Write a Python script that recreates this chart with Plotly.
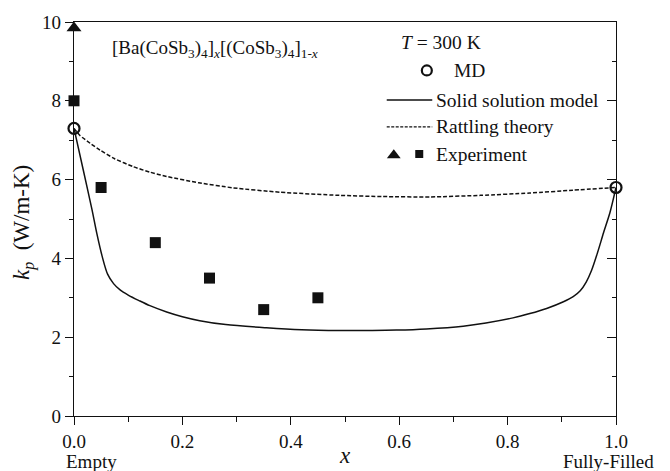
import plotly.graph_objects as go

# ---- data ----
md_x = [0.0, 1.0]
md_y = [7.3, 5.8]

solid_x = [0.0, 0.017, 0.033, 0.042, 0.052, 0.062, 0.073, 0.085, 0.1, 0.12, 0.14, 0.171, 0.2, 0.232,
           0.28, 0.355, 0.42, 0.49, 0.55, 0.595, 0.65, 0.718, 0.76, 0.81, 0.841, 0.872,
           0.903, 0.921, 0.934, 0.945, 0.955, 0.966, 0.977, 0.989, 1.0]
solid_y = [7.3, 6.25, 5.25, 4.64, 4.05, 3.6, 3.36, 3.2, 3.07, 2.93, 2.8, 2.64, 2.52, 2.42,
           2.32, 2.24, 2.19, 2.17, 2.17, 2.18, 2.21, 2.28, 2.36, 2.49, 2.6, 2.73,
           2.9, 3.03, 3.18, 3.4, 3.7, 4.15, 4.65, 5.17, 5.8]

dash_x = [0.0, 0.011, 0.03, 0.048, 0.075, 0.109, 0.14, 0.171, 0.23, 0.294, 0.38, 0.49,
          0.57, 0.657, 0.75, 0.841, 0.92, 1.0]
dash_y = [7.3, 7.12, 6.92, 6.75, 6.53, 6.33, 6.19, 6.08, 5.92, 5.79, 5.68, 5.6,
          5.57, 5.56, 5.6, 5.66, 5.73, 5.8]

exp_sq_x = [0.0, 0.05, 0.15, 0.25, 0.35, 0.45]
exp_sq_y = [8.0, 5.8, 4.4, 3.5, 2.7, 3.0]
exp_tri_x = [0.0]
exp_tri_y = [9.85]

x_ticks = [0.0, 0.2, 0.4, 0.6, 0.8, 1.0]
x_ticklabels = ["0.0", "0.2", "0.4", "0.6", "0.8", "1.0"]
y_ticks = [0, 2, 4, 6, 8, 10]

FONT = "Liberation Serif"
BLACK = "#111111"

fig = go.Figure()

fig.add_trace(go.Scatter(x=solid_x, y=solid_y, mode="lines",
                         line=dict(color=BLACK, width=1.5, shape="spline", smoothing=0.8),
                         cliponaxis=False, showlegend=False))
fig.add_trace(go.Scatter(x=dash_x, y=dash_y, mode="lines",
                         line=dict(color=BLACK, width=1.5, dash="4px,2px", shape="spline", smoothing=0.6),
                         cliponaxis=False, showlegend=False))
fig.add_trace(go.Scatter(x=exp_sq_x, y=exp_sq_y, mode="markers",
                         marker=dict(symbol="square", size=11, color=BLACK),
                         cliponaxis=False, showlegend=False))
fig.add_trace(go.Scatter(x=exp_tri_x, y=exp_tri_y, mode="markers",
                         marker=dict(symbol="triangle-up", size=13, color=BLACK),
                         cliponaxis=False, showlegend=False))
fig.add_trace(go.Scatter(x=md_x, y=md_y, mode="markers",
                         marker=dict(symbol="circle-open", size=11, color=BLACK, line=dict(width=2.2)),
                         cliponaxis=False, showlegend=False))

# ---- custom legend on an invisible overlay axis (0..1 box) ----
fig.add_trace(go.Scatter(x=[0.577, 0.661], y=[0.802, 0.802], mode="lines", xaxis="x3", yaxis="y3",
                         line=dict(color=BLACK, width=1.3), showlegend=False))
fig.add_trace(go.Scatter(x=[0.577, 0.661], y=[0.734, 0.734], mode="lines", xaxis="x3", yaxis="y3",
                         line=dict(color=BLACK, width=1.3, dash="3px,1.5px"), showlegend=False))
fig.add_trace(go.Scatter(x=[0.651], y=[0.877], mode="markers", xaxis="x3", yaxis="y3",
                         marker=dict(symbol="circle-open", size=10, color=BLACK, line=dict(width=2.2)),
                         showlegend=False))
fig.add_trace(go.Scatter(x=[0.590], y=[0.662], mode="markers", xaxis="x3", yaxis="y3",
                         marker=dict(symbol="triangle-up", size=12, color=BLACK), showlegend=False))
fig.add_trace(go.Scatter(x=[0.637], y=[0.665], mode="markers", xaxis="x3", yaxis="y3",
                         marker=dict(symbol="square", size=8, color=BLACK), showlegend=False))

ann = []
def text(x, y, s, size=19.5, xanchor="left", yanchor="middle", **kw):
    ann.append(dict(x=x, y=y, xref="paper", yref="paper", text=s, showarrow=False,
                    xanchor=xanchor, yanchor=yanchor, font=dict(family=FONT, size=size, color=BLACK), **kw))

text(0.066, 0.932, "[Ba(CoSb<sub>3</sub>)<sub>4</sub>]<sub><i>x</i></sub>[(CoSb<sub>3</sub>)<sub>4</sub>]<sub>1-<i>x</i></sub>", size=19)
text(0.600, 0.947, "<i>T</i> = 300 K")
text(0.697, 0.877, "MD")
text(0.664, 0.802, "Solid solution model")
text(0.664, 0.734, "Rattling theory")
text(0.664, 0.664, "Experiment")
text(-0.092, 0.49, "<i>k</i><sub><i>p</i></sub>  (W/m-K)", size=23, xanchor="center", textangle=-90)
text(0.5, -0.1, "<i>x</i>", size=23, xanchor="center")
text(-0.018, -0.116, "Empty", size=19, xanchor="left")
text(1.073, -0.116, "Fully-Filled", size=19, xanchor="right")

fig.update_layout(
    width=670, height=471,
    margin=dict(l=74, r=54, t=17, b=55),
    paper_bgcolor="white", plot_bgcolor="white",
    font=dict(family=FONT, size=19, color=BLACK),
    showlegend=False,
    annotations=ann,
    xaxis=dict(range=[0, 1], tickvals=x_ticks, ticktext=x_ticklabels, showgrid=False, zeroline=False,
               showline=True, linecolor=BLACK, linewidth=1.4, mirror=True,
               ticks="outside", ticklen=8, tickwidth=1.3, tickcolor=BLACK,
               minor=dict(dtick=0.1, tick0=0, ticks="outside", ticklen=5, tickwidth=1.3, tickcolor=BLACK),
               tickfont=dict(family=FONT, size=19, color=BLACK)),
    yaxis=dict(range=[0, 10], tickvals=y_ticks, showgrid=False, zeroline=False,
               showline=True, linecolor=BLACK, linewidth=1.4,
               ticks="outside", ticklen=8, tickwidth=1.3, tickcolor=BLACK,
               minor=dict(dtick=1, tick0=0, ticks="outside", ticklen=4, tickwidth=1.3, tickcolor=BLACK),
               tickfont=dict(family=FONT, size=19, color=BLACK)),
    yaxis2=dict(range=[0, 10], overlaying="y", side="right", tickvals=y_ticks, showticklabels=False,
                showgrid=False, zeroline=False, showline=True, linecolor=BLACK, linewidth=1.4,
                ticks="inside", ticklen=9, tickwidth=1.3, tickcolor=BLACK,
                minor=dict(dtick=1, tick0=0, ticks="inside", ticklen=4, tickwidth=1.3, tickcolor=BLACK)),
    xaxis3=dict(range=[0, 1], overlaying="x", visible=False, fixedrange=True),
    yaxis3=dict(range=[0, 1], overlaying="y", visible=False, fixedrange=True, anchor="x3"),
)
# dummy trace so yaxis2 is drawn
fig.add_trace(go.Scatter(x=[None], y=[None], yaxis="y2", showlegend=False))

fig.write_html("out.html")
